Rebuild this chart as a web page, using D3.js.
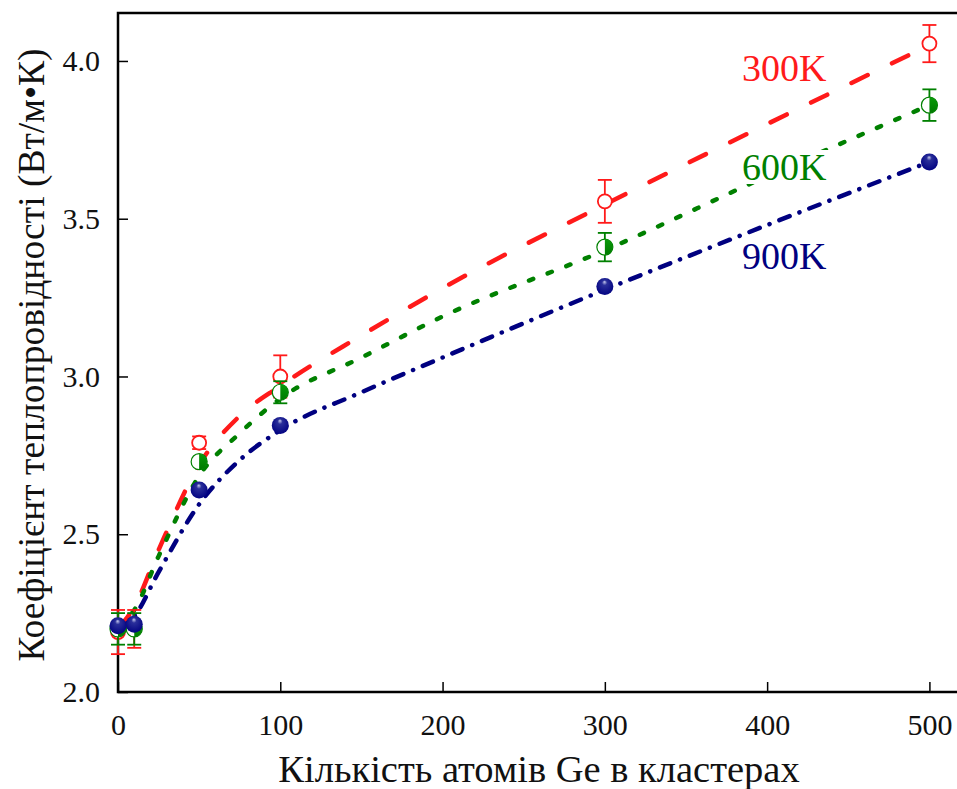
<!DOCTYPE html>
<html>
<head>
<meta charset="utf-8">
<script src="https://d3js.org/d3.v7.min.js"></script>
<style>
  body { margin: 0; background: #fff; }
  svg text { font-family: "Liberation Serif", "DejaVu Serif", serif !important; }
</style>
</head>
<body>
<div id="my_dataviz"></div>
<script>
// measured points (x = number of Ge atoms)
var atoms = [0, 10, 50, 100, 300, 500];
var k300 = [2.19, 2.20, 2.79, 3.00, 3.555, 4.055];
var k300err = [0.07, 0.06, 0.02, 0.067, 0.068, 0.059];
var k600 = [2.20, 2.20, 2.73, 2.95, 3.41, 3.86];
var k600err = [0.05, 0.05, 0.01, 0.035, 0.045, 0.05];
var k900 = [2.21, 2.215, 2.64, 2.845, 3.285, 3.68];
var k900err = [0.01, 0.01, 0.01, 0.01, 0.01, 0.01];

// fitted curves
var fitX = [0, 10, 25, 50, 75, 100, 150, 200, 300, 400, 500];
var fit300 = [2.20, 2.27, 2.45, 2.72, 2.875, 2.97, 3.13, 3.28, 3.545, 3.80, 4.05];
var fit600 = [2.21, 2.26, 2.43, 2.685, 2.82, 2.93, 3.06, 3.19, 3.40, 3.635, 3.86];
var fit900 = [2.20, 2.24, 2.38, 2.595, 2.735, 2.83, 2.95, 3.06, 3.275, 3.48, 3.68];

var xTicks = [0, 100, 200, 300, 400, 500];
var yTicks = [2.0, 2.5, 3.0, 3.5, 4.0];

var width = 957, height = 789;
var svg = d3.select("#my_dataviz").append("svg")
    .attr("width", width).attr("height", height);

var x = d3.scaleLinear().domain([0, 517]).range([118, 957]);
var y = d3.scaleLinear().domain([2.0, 4.152]).range([692, 13]);

// sphere gradient for the navy markers
var defs = svg.append("defs");
var grad = defs.append("radialGradient").attr("id", "navyBall")
    .attr("cx", "50%").attr("cy", "45%").attr("r", "60%")
    .attr("fx", "48%").attr("fy", "22%");
grad.append("stop").attr("offset", "0%").attr("stop-color", "#c8cbee");
grad.append("stop").attr("offset", "25%").attr("stop-color", "#2a2f9a");
grad.append("stop").attr("offset", "100%").attr("stop-color", "#000080");

var grad2 = defs.append("linearGradient").attr("id", "greenHalf")
    .attr("x1", "0%").attr("y1", "0%").attr("x2", "0%").attr("y2", "100%");
grad2.append("stop").attr("offset", "0%").attr("stop-color", "#0a9a0a");
grad2.append("stop").attr("offset", "100%").attr("stop-color", "#007a00");

// axes (ticks inside)
svg.append("g")
    .attr("transform", "translate(0,692)")
    .call(d3.axisBottom(x).tickValues(xTicks).tickSize(-10).tickPadding(22).tickFormat(d3.format("d")))
    .call(function(g) {
      g.select(".domain").remove();
      g.selectAll("line").attr("stroke", "#000").attr("stroke-width", 1.5);
      g.selectAll("text").attr("font-size", "30px").attr("fill", "#111");
    });

svg.append("g")
    .attr("transform", "translate(118,0)")
    .call(d3.axisLeft(y).tickValues(yTicks).tickSize(-10).tickPadding(18).tickFormat(d3.format(".1f")))
    .call(function(g) {
      g.select(".domain").remove();
      g.selectAll("line").attr("stroke", "#000").attr("stroke-width", 1.5);
      g.selectAll("text").attr("font-size", "30px").attr("fill", "#111");
    });

// frame: left, bottom, top
svg.append("path")
    .attr("d", "M957,13H118V692H957")
    .attr("fill", "none").attr("stroke", "#000").attr("stroke-width", 2.5);

// fit lines
var line = d3.line()
    .x(function(d) { return x(d[0]); })
    .y(function(d) { return y(d[1]); })
    .curve(d3.curveMonotoneX);

function zip(a, b) { return a.map(function(v, i) { return [v, b[i]]; }); }

svg.append("path").datum(zip(fitX, fit300))
    .attr("d", line).attr("fill", "none").attr("stroke", "#ff1a1a")
    .attr("stroke-width", 4.5).attr("stroke-linecap", "round")
    .attr("stroke-dasharray", "18,27");

svg.append("path").datum(zip(fitX, fit600))
    .attr("d", line).attr("fill", "none").attr("stroke", "#008000")
    .attr("stroke-width", 4.5).attr("stroke-linecap", "round")
    .attr("stroke-dasharray", "4.5,15.5");

svg.append("path").datum(zip(fitX, fit900))
    .attr("d", line).attr("fill", "none").attr("stroke", "#000080")
    .attr("stroke-width", 4.5).attr("stroke-linecap", "round")
    .attr("stroke-dasharray", "11,10.5,0.1,10.5");

// error bars
function errorBars(vals, errs, color) {
  var g = svg.append("g").attr("stroke", color).attr("stroke-width", 1.8).attr("fill", "none");
  atoms.forEach(function(a, i) {
    var cx = x(a), y0 = y(vals[i] - errs[i]), y1 = y(vals[i] + errs[i]);
    g.append("line").attr("x1", cx).attr("x2", cx).attr("y1", y0).attr("y2", y1);
    g.append("line").attr("x1", cx - 7).attr("x2", cx + 7).attr("y1", y0).attr("y2", y0);
    g.append("line").attr("x1", cx - 7).attr("x2", cx + 7).attr("y1", y1).attr("y2", y1);
  });
}

errorBars(k300, k300err, "#ff1a1a");
svg.append("g").selectAll("circle").data(zip(atoms, k300)).enter().append("circle")
    .attr("cx", function(d) { return x(d[0]); })
    .attr("cy", function(d) { return y(d[1]); })
    .attr("r", 7).attr("fill", "#fff").attr("stroke", "#ff1a1a").attr("stroke-width", 1.8);

errorBars(k600, k600err, "#008000");
var g600 = svg.append("g");
zip(atoms, k600).forEach(function(d) {
  var cx = x(d[0]), cy = y(d[1]), r = 8;
  g600.append("circle").attr("cx", cx).attr("cy", cy).attr("r", r)
      .attr("fill", "#fff").attr("stroke", "#008000").attr("stroke-width", 1.2);
  g600.append("path")
      .attr("d", "M" + cx + "," + (cy - r) + "A" + r + "," + r + " 0 0 1 " + cx + "," + (cy + r) + "Z")
      .attr("fill", "url(#greenHalf)");
});

errorBars(k900, k900err, "#000080");
svg.append("g").selectAll("circle").data(zip(atoms, k900)).enter().append("circle")
    .attr("cx", function(d) { return x(d[0]); })
    .attr("cy", function(d) { return y(d[1]); })
    .attr("r", 8.5).attr("fill", "url(#navyBall)");

// series labels
svg.append("text").attr("x", 742).attr("y", 81).text("300K")
    .attr("font-size", "38px").attr("fill", "#ff1a1a");

var l600 = svg.append("text").attr("x", 742).attr("y", 180).text("600K")
    .attr("font-size", "38px").attr("fill", "#008000");
var bb = l600.node().getBBox();
svg.append("rect")
    .attr("x", bb.x - 4).attr("y", bb.y + 4).attr("width", bb.width + 6).attr("height", bb.height - 8)
    .attr("fill", "#fff");
l600.raise();

svg.append("text").attr("x", 742).attr("y", 269).text("900K")
    .attr("font-size", "38px").attr("fill", "#000080");

// axis titles
svg.append("text").attr("x", 539).attr("y", 782).attr("text-anchor", "middle")
    .attr("font-size", "38.5px").attr("fill", "#111")
    .text("Кількість атомів Ge в кластерах");

svg.append("text").attr("transform", "translate(44,355) rotate(-90)")
    .attr("text-anchor", "middle").attr("font-size", "37.5px").attr("fill", "#111")
    .text("Коефіцієнт теплопровідності (Вт/м•К)");
</script>
</body>
</html>
